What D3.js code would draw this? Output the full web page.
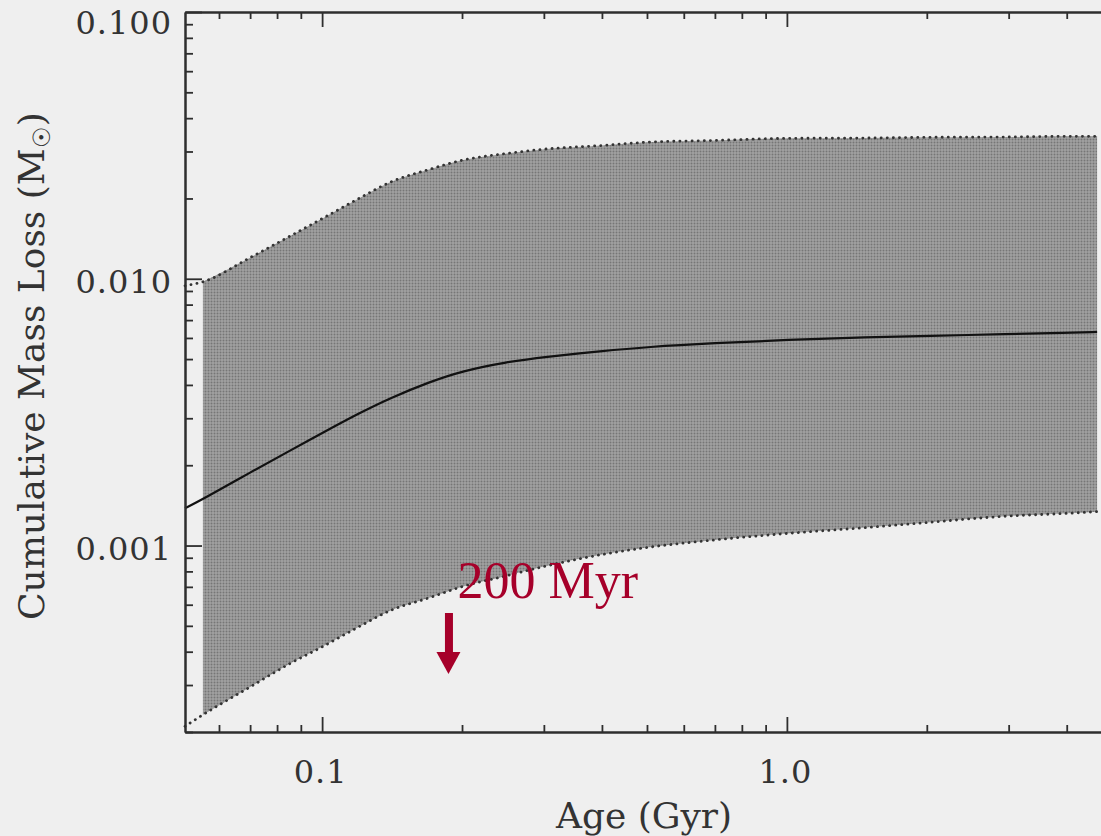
<!DOCTYPE html>
<html>
<head>
<meta charset="utf-8">
<script src="https://cdn.jsdelivr.net/npm/d3@7"></script>
<style>
  html, body { margin: 0; padding: 0; background: #efefef; }
  svg { display: block; }
</style>
</head>
<body>
<svg width="1101" height="836"></svg>
<script>
// ages in Gyr, cumulative mass loss in solar masses
var ages      = [0.0507, 0.0554, 0.07, 0.085, 0.1, 0.12, 0.14, 0.17, 0.2, 0.25, 0.3, 0.4, 0.5, 0.7, 1.0, 1.5, 2, 3, 4, 4.65];
var upperLoss = [0.00941, 0.00974, 0.0120, 0.0144, 0.0168, 0.0200, 0.0230, 0.0257, 0.0278, 0.0295, 0.0306, 0.0316, 0.0325, 0.0330, 0.0336, 0.0337, 0.0339, 0.0340, 0.0342, 0.0342];
var meanLoss  = [0.00138, 0.00149, 0.00188, 0.00226, 0.00264, 0.00313, 0.00357, 0.00410, 0.00451, 0.00488, 0.00509, 0.00536, 0.00555, 0.00574, 0.00590, 0.00605, 0.00610, 0.00621, 0.00627, 0.00632];
var lowerLoss = [0.000210, 0.000232, 0.000295, 0.000360, 0.000417, 0.000496, 0.000570, 0.000637, 0.000701, 0.000771, 0.000834, 0.000925, 0.000983, 0.00105, 0.00111, 0.00117, 0.00122, 0.00129, 0.00132, 0.00134];

var xMajor = [0.1, 1.0];
var xTickLabels = ["0.1", "1.0"];
var xMinor = [0.06, 0.07, 0.08, 0.09, 0.2, 0.3, 0.4, 0.5, 0.6, 0.7, 0.8, 0.9, 2, 3, 4, 5];
var yMajor = [0.001, 0.01, 0.1];
var yTickLabels = ["0.001", "0.010", "0.100"];
var yMinor = [0.0002, 0.0003, 0.0004, 0.0005, 0.0006, 0.0007, 0.0008, 0.0009,
              0.002, 0.003, 0.004, 0.005, 0.006, 0.007, 0.008, 0.009,
              0.02, 0.03, 0.04, 0.05, 0.06, 0.07, 0.08, 0.09];

var markAge = 0.187;   // the "200 Myr" arrow
var markLabel = "200 Myr";

var svg = d3.select("svg");
var padLeft = 185, padRight = 1131, padTop = 12, padBottom = 732;
var ink = "#2e2e2e";
var red = "#a6002a";
var serif = "'DejaVu Serif', serif";

svg.append("rect").attr("width", 1101).attr("height", 836).attr("fill", "#efefef");

var x = d3.scaleLog().domain([0.0507, 5.5]).range([padLeft, padRight]);
var y = d3.scaleLog().domain([0.0002, 0.1]).range([padBottom, padTop]);

// dotted halftone look for the band
var defs = svg.append("defs");
var pat = defs.append("pattern")
  .attr("id", "halftone")
  .attr("width", 3).attr("height", 3)
  .attr("patternUnits", "userSpaceOnUse");
pat.append("rect").attr("width", 3).attr("height", 3).attr("fill", "#a2a2a2");
pat.append("circle").attr("cx", 1.5).attr("cy", 1.5).attr("r", 1).attr("fill", "#767676");

var rows = ages.map(function(a, i) {
  return {age: a, hi: upperLoss[i], mid: meanLoss[i], lo: lowerLoss[i]};
});

var area = d3.area()
  .x(function(d) { return x(d.age); })
  .y0(function(d) { return y(d.lo); })
  .y1(function(d) { return y(d.hi); })
  .curve(d3.curveMonotoneX);

svg.append("path")
  .datum(rows.slice(1))
  .attr("d", area)
  .attr("fill", "url(#halftone)");

function edge(key) {
  return d3.line()
    .x(function(d) { return x(d.age); })
    .y(function(d) { return y(d[key]); })
    .curve(d3.curveBasis);
}

["hi", "lo"].forEach(function(k) {
  svg.append("path")
    .datum(rows)
    .attr("d", edge(k).curve(d3.curveMonotoneX))
    .attr("fill", "none")
    .attr("stroke", "#333")
    .attr("stroke-width", 2.8)
    .attr("stroke-linecap", "round")
    .attr("stroke-dasharray", "0.1,6");
});

svg.append("path")
  .datum(rows)
  .attr("d", edge("mid"))
  .attr("fill", "none")
  .attr("stroke", "#111")
  .attr("stroke-width", 2.2);

// axes: major and minor ticks drawn inward
function styleAxis(g) {
  g.selectAll("path.domain").attr("stroke", ink).attr("stroke-width", 2);
  g.selectAll(".tick line").attr("stroke", ink).attr("stroke-width", 1.8);
  g.selectAll("text").attr("font-family", serif).attr("font-size", "32px")
    .attr("letter-spacing", "1px").attr("fill", "#333");
}

svg.append("g")
  .attr("transform", "translate(0," + padBottom + ")")
  .call(d3.axisBottom(x).tickValues(xMinor).tickSizeInner(-7).tickSizeOuter(0).tickFormat(""))
  .call(styleAxis);

var xb = svg.append("g")
  .attr("transform", "translate(0," + padBottom + ")")
  .call(d3.axisBottom(x).tickValues(xMajor).tickSizeInner(-15).tickSizeOuter(0)
    .tickFormat(function(d, i) { return xTickLabels[i]; }))
  .call(styleAxis);
xb.selectAll("text").attr("y", 0).attr("dy", 0).attr("transform", "translate(-2,51)");

svg.append("g")
  .attr("transform", "translate(0," + padTop + ")")
  .call(d3.axisTop(x).tickValues(xMinor).tickSizeInner(-7).tickSizeOuter(0).tickFormat(""))
  .call(styleAxis);
svg.append("g")
  .attr("transform", "translate(0," + padTop + ")")
  .call(d3.axisTop(x).tickValues(xMajor).tickSizeInner(-15).tickSizeOuter(0).tickFormat(""))
  .call(styleAxis);

svg.append("g")
  .attr("transform", "translate(" + padLeft + ",0)")
  .call(d3.axisLeft(y).tickValues(yMinor).tickSizeInner(-8).tickSizeOuter(0).tickFormat(""))
  .call(styleAxis);

var yl = svg.append("g")
  .attr("transform", "translate(" + padLeft + ",0)")
  .call(d3.axisLeft(y).tickValues(yMajor).tickSizeInner(-17).tickSizeOuter(0)
    .tickFormat(function(d, i) { return yTickLabels[i]; }))
  .call(styleAxis);
yl.selectAll("text")
  .attr("x", -13)
  .attr("dy", 0)
  .attr("text-anchor", "end")
  .attr("y", function(d) { return Math.max(33 - y(d), 14); });

// axis titles
svg.append("text")
  .attr("x", 644).attr("y", 828)
  .attr("text-anchor", "middle")
  .attr("font-family", serif).attr("font-size", "36px").attr("fill", "#333")
  .text("Age (Gyr)");

var yt = svg.append("text")
  .attr("transform", "translate(44,620) rotate(-90)")
  .attr("text-anchor", "start")
  .attr("font-family", serif).attr("font-size", "36px").attr("fill", "#333");
yt.append("tspan").text("Cumulative Mass Loss (M");
yt.append("tspan").attr("font-size", "24px").attr("dy", 6).text("\u2609");
yt.append("tspan").attr("dy", -6).text(")");

// 200 Myr marker
var mx = x(markAge);
svg.append("text")
  .attr("x", mx + 9).attr("y", 598)
  .attr("font-family", "'Liberation Serif', 'Times New Roman', serif")
  .attr("font-size", "52px").attr("fill", red)
  .text(markLabel);
svg.append("rect")
  .attr("x", mx - 3.5).attr("y", 613).attr("width", 8).attr("height", 41)
  .attr("fill", red);
svg.append("path")
  .attr("d", "M" + (mx - 12) + ",652 L" + (mx + 12) + ",652 L" + mx + ",674 Z")
  .attr("fill", red);
</script>
</body>
</html>
